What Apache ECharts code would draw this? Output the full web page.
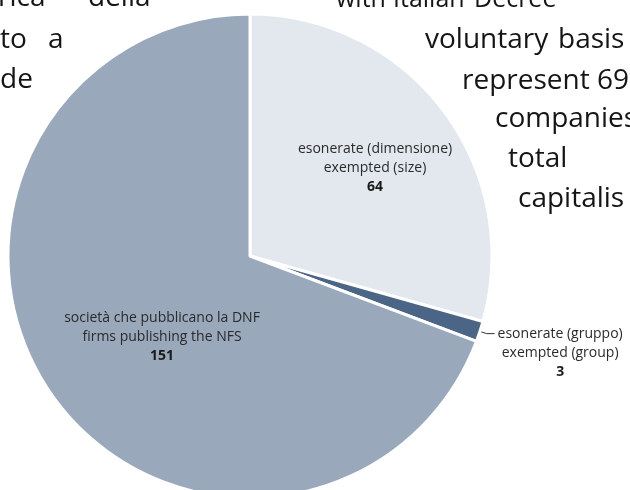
<!DOCTYPE html>
<html>
<head>
<meta charset="utf-8">
<script src="https://cdn.jsdelivr.net/npm/echarts@6/dist/echarts.min.js"></script>
<style>
html,body{margin:0;padding:0;background:#fff;}
#chart{width:630px;height:490px;}
</style>
</head>
<body>
<div id="chart"></div>
<script>
// Data
var namesIT = ['esonerate (dimensione)', 'esonerate (gruppo)', 'società che pubblicano la DNF'];
var namesEN = ['exempted (size)', 'exempted (group)', 'firms publishing the NFS'];
var values = [64, 3, 151];
var colors = ['#e3e8ee', '#4b6586', '#9aa8bc'];

// Background page text fragments (partially hidden behind the pie)
var bgWords = ['rica', 'della', 'to', 'a', 'de', 'with', 'Italian', 'Decree', 'voluntary', 'basis', 'represent', '69', 'companies', 'total', 'capitalis'];
var bgX = [-2, 88, 0, 48, 0, 336, 393, 474, 425, 558, 462, 597, 495, 508, 518];
var bgY = [-2, -2, 40, 40, 80, 0, 0, 0, 40, 40, 81, 81, 119, 159, 199];
var bgSize = [28, 28, 28, 28, 28, 25, 25, 25, 28, 28, 28, 28, 28, 28, 28];

// Label anchor positions (centers of label blocks) for the inside labels
var labelPos = { 0: [375, 168], 2: [162, 337] };

var chart = echarts.init(document.getElementById('chart'));

var data = values.map(function (v, i) {
  var d = { name: namesIT[i] + '\n' + namesEN[i], value: v, itemStyle: { color: colors[i] } };
  if (i === 1) {
    d.label = { position: 'outside', show: true, padding: [38, 0, 0, 0], distanceToLabelLine: 3 };
    d.labelLine = { show: true, length: 7, length2: 8, lineStyle: { color: '#333', width: 1 } };
  }
  return d;
});

var graphics = bgWords.map(function (w, i) {
  return {
    type: 'text', x: bgX[i], y: bgY[i], z: 0,
    style: { text: w, fill: '#151515', font: bgSize[i] + 'px "Open Sans"', verticalAlign: 'middle', align: 'left' }
  };
});

chart.setOption({
  animation: false,
  backgroundColor: '#ffffff',
  graphic: graphics,
  series: [{
    type: 'pie',
    z: 5,
    center: [250, 256],
    radius: 242,
    startAngle: 90,
    clockwise: true,
    avoidLabelOverlap: false,
    itemStyle: { borderColor: '#ffffff', borderWidth: 3 },
    label: {
      show: true,
      position: 'inside',
      formatter: function (p) {
        var i = p.dataIndex;
        return '{t|' + namesIT[i] + '}\n{t|' + namesEN[i] + '}\n{v|' + values[i] + '}';
      },
      rich: {
        t: { fontFamily: 'Open Sans', fontSize: 14, color: '#2a2a2a', lineHeight: 19, align: 'center' },
        v: { fontFamily: 'Open Sans', fontSize: 14, fontWeight: 'bold', color: '#1a1a1a', lineHeight: 19, align: 'center' }
      }
    },
    labelLine: { show: false },
    labelLayout: function (p) {
      var pos = labelPos[p.dataIndex];
      if (!pos) return {};
      return { x: pos[0], y: pos[1], align: 'center', verticalAlign: 'middle' };
    },
    data: data
  }]
});
</script>
</body>
</html>
